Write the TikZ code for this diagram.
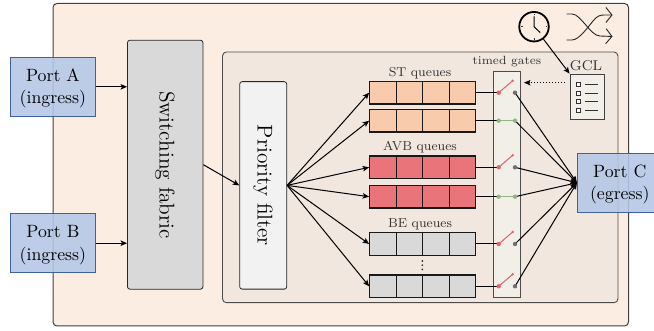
\documentclass[tikz,border=0pt]{standalone}
\usetikzlibrary{arrows.meta}
\pgfdeclarelayer{top}
\pgfsetlayers{main,top}
\definecolor{outerfill}{HTML}{FBEDE2}
\definecolor{innerfill}{HTML}{F1E7DE}
\definecolor{portfill}{HTML}{B4C7E7}
\definecolor{portline}{HTML}{3F619F}
\definecolor{greyfill}{HTML}{D9D9D9}
\definecolor{prio}{HTML}{F2F2F2}
\definecolor{orangeq}{HTML}{F8CBAD}
\definecolor{redq}{HTML}{E9747A}
\definecolor{gatefill}{HTML}{F2EEE8}
\definecolor{swred}{HTML}{E0646A}
\definecolor{swgreen}{HTML}{93B583}
\definecolor{dotgrey}{HTML}{707070}
\tikzset{
  x=1pt,y=-1pt,
  arr/.style={draw=black,line width=1pt,-{Stealth[length=6.5pt,width=5.5pt,inset=1.5pt]}},
  wire/.style={draw=black,line width=1pt},
  portbox/.style={draw=portline,line width=0.8pt,fill=portfill,fill opacity=0.88,text opacity=1,minimum width=85pt,minimum height=59pt,inner sep=0pt,align=center},
  block/.style={draw=black!85,line width=0.8pt,rounded corners=2.5pt,inner sep=0pt},
  cell/.style={draw=black!90,line width=1.2pt,minimum width=26.5pt,minimum height=22.7pt,inner sep=0pt},
  qlabel/.style={text=black!80,inner sep=0pt},
  contact/.style={circle,inner sep=0pt,minimum size=4.4pt},
  armtip/.style={circle,inner sep=0pt,minimum size=2.8pt,fill=swred},
  switchopen/.style={draw=swred,line width=1pt},
  switchclosed/.style={draw=swgreen,line width=1pt},
  check/.style={draw=black!80,line width=0.8pt,fill=white,minimum size=4pt,inner sep=0pt},
  gclline/.style={draw=black!80,line width=0.7pt},
  icon/.style={draw=black!85,line width=0.9pt},
  vdot/.style={circle,fill=black!85,inner sep=0pt,minimum size=1.9pt}
}
\newcommand{\porttext}[2]{\scalebox{1.78}{\begin{tabular}{@{}c@{}}\rule{0pt}{10.1pt}#1\\[0.7pt]#2\end{tabular}}}
\newcommand{\bigtext}[1]{\scalebox{1.78}{\large #1}}
\newcommand{\smalltext}[1]{\scalebox{1.62}{\footnotesize #1}}
\newcommand{\tinytext}[1]{\scalebox{1.7}{\scriptsize #1}}
\newcommand{\myqueue}[3]{% name, y centre, colour
  \node[cell,fill=#3] (#1a) at (383,#2) {};
  \node[cell,fill=#3] (#1b) at (409.5,#2) {};
  \node[cell,fill=#3] (#1c) at (436,#2) {};
  \node[cell,fill=#3] (#1d) at (462.5,#2) {};
}
\begin{document}
\begin{tikzpicture}
\useasboundingbox (0,0) rectangle (654,331);
\clip (0,0) rectangle (654,331);
\fill[white] (0,0) rectangle (654,331);
\draw[fill=outerfill,draw=black!75,line width=1pt,rounded corners=4pt] (53,3.5) rectangle (628.5,326);
\draw[fill=innerfill,draw=black!70,line width=0.9pt,rounded corners=4pt] (222.5,52) rectangle (618,302.7);

\node[block,fill=greyfill,minimum width=75.5pt,minimum height=249pt] (fabric) at (165.2,164.7) {};
\node[rotate=-90,inner sep=0pt] (fabrictext) at (165,165) {\bigtext{Switching fabric}};
\node[block,fill=prio,minimum width=47pt,minimum height=207.5pt] (filter) at (263.2,185.4) {};
\node[rotate=-90,inner sep=0pt] (filtertext) at (263,185.5) {\bigtext{Priority filter}};

\node[draw=black!70,line width=0.9pt,fill=gatefill,minimum width=26.6pt,minimum height=225.3pt,inner sep=0pt] (gates) at (507,184.6) {};
\node[qlabel] (gateslabel) at (507,62) {\tinytext{timed gates}};

\myqueue{qa}{92.7}{orangeq}
\myqueue{qb}{120.7}{orangeq}
\myqueue{qc}{167.3}{redq}
\myqueue{qd}{196.7}{redq}
\myqueue{qe}{244}{greyfill}
\myqueue{qf}{286.3}{greyfill}
\node[qlabel] (stlabel) at (420,72.7) {\smalltext{ST queues}};
\node[qlabel] (avblabel) at (420,146.7) {\smalltext{AVB queues}};
\node[qlabel] (belabel) at (420,224) {\smalltext{BE queues}};
\node[vdot] (vdotA) at (422.3,261) {};
\node[vdot] (vdotB) at (422.3,265.2) {};
\node[vdot] (vdotC) at (422.3,269.4) {};

% switches
\begin{pgfonlayer}{top}
\foreach \n/\y in {a/92.7,c/167.3,e/244,f/286.3}{
  \node[contact,fill=swred] (l\n) at (498.7,\y) {};
  \node[contact,fill=dotgrey] (r\n) at (515,\y) {};
  \node[armtip] (t\n) at (512.7,\y-12) {};
  \draw[switchopen] (l\n.center) -- (t\n.center);
}
\foreach \n/\y in {b/120.7,d/196.7}{
  \node[contact,fill=swgreen] (l\n) at (498.7,\y) {};
  \node[contact,fill=swgreen] (r\n) at (515,\y) {};
  \draw[switchclosed] (l\n) -- (r\n);
}
\end{pgfonlayer}

\node[portbox] (portA) at (52.9,86.8) {\porttext{Port A}{(ingress)}};
\node[portbox] (portB) at (52.9,243.2) {\porttext{Port B}{(ingress)}};
\node[portbox] (portC) at (619.8,182.8) {\porttext{Port C}{(egress)}};

\draw[arr] (portA.east) -- (fabric.west |- portA.east);
\draw[arr] (portB.east) -- (fabric.west |- portB.east);
\draw[arr] (fabric.east) -- (filter.west);
\foreach \n in {a,b,c,d,e,f}{
  \draw[arr] (filter.east) -- (q\n a.west);
  \draw[wire] (q\n d.east) -- (l\n.center);
  \draw[arr] (r\n.center) -- (portC.west);
}

% GCL
\node[draw=black!75,line width=0.8pt,fill=gatefill,minimum width=34pt,minimum height=45.3pt,inner sep=0pt] (gcl) at (587,96.7) {};
\node[qlabel] (gcllabel) at (586,66) {\scalebox{1.78}{\footnotesize GCL}};
\foreach \n/\y in {1/84,2/93,3/101.3,4/110.3}{
  \node[check] (chk\n) at (578,\y) {};
  \coordinate (linestart\n) at (585,\y);
  \coordinate (lineend\n) at (598,\y);
  \draw[gclline] (linestart\n) -- (lineend\n);
}
\coordinate (dottedstart) at (565,82.7);
\coordinate (dottedend) at (524,82.7);
\draw[draw=black,line width=1pt,dotted,-{Stealth[length=6.5pt,width=5.5pt,inset=1.5pt]}] (dottedstart) -- (dottedend);

% clock
\node[circle,draw=black,line width=1.8pt,fill=outerfill,minimum size=29.5pt,inner sep=0pt] (clock) at (534,26.7) {};
\foreach \a in {0,90,180,270}{
  \draw[black!80,line width=0.6pt] (clock.center) ++(\a:11.5) -- ++(\a:1.6);
}
\draw[black,line width=1pt,line cap=round,line join=round] (534,16.7) -- (534,26.7) -- (540,32.4);
\draw[arr] (clock) -- (gcl.north west);

% shuffle icon
\coordinate (sa) at (566.7,14);
\coordinate (sb) at (566.7,40);
\coordinate (sc) at (612.5,15);
\coordinate (sd) at (612.5,36.5);
\draw[icon,-{Straight Barb[length=6pt,width=15pt]}] (sa) -- (572,14) .. controls (577,14) and (581,20) .. (585,24) .. controls (590,30) and (595,36) .. (600,36) -- (sd);
\draw[icon,-{Straight Barb[length=6pt,width=15pt]}] (sb) -- (572,40) .. controls (579,40) and (588,27) .. (593,21) .. controls (597,16) and (600,15) .. (604,15) -- (sc);
\end{tikzpicture}
\end{document}
